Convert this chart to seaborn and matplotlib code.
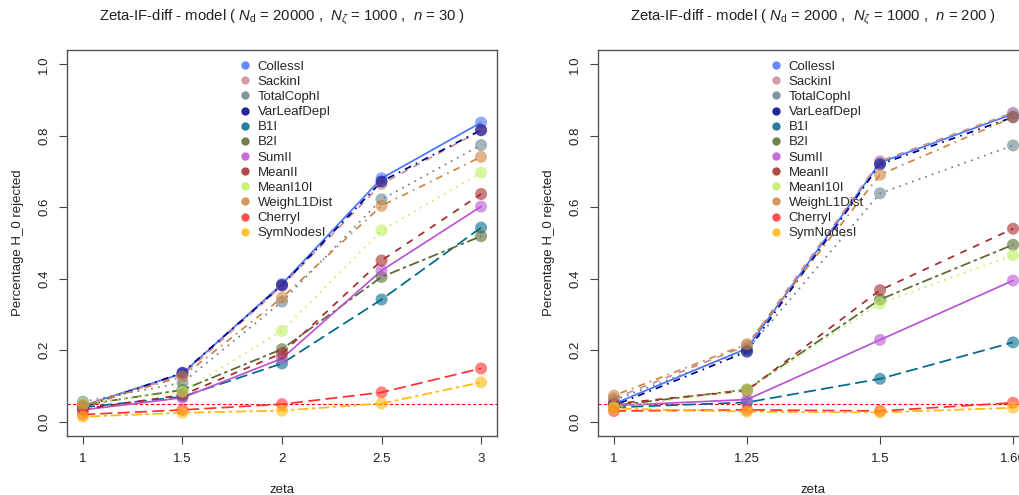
import numpy as np
import pandas as pd
import matplotlib
matplotlib.use("Agg")
import matplotlib.pyplot as plt
from matplotlib.lines import Line2D
import seaborn as sns

sns.set_style("white")
plt.rcParams['font.family'] = ['Liberation Sans', 'DejaVu Sans']
plt.rcParams['mathtext.fontset'] = 'custom'
plt.rcParams['mathtext.rm'] = 'Liberation Sans'
plt.rcParams['mathtext.it'] = 'Liberation Sans:italic'

# ---------------- data ----------------
indices = ["CollessI", "SackinI", "TotalCophI", "VarLeafDepI", "B1I", "B2I",
           "SumII", "MeanII", "MeanI10I", "WeighL1Dist", "CherryI", "SymNodesI"]

left_x = [1, 1.5, 2, 2.5, 3]
left_xlabels = ["1", "1.5", "2", "2.5", "3"]
left_vals = {
    "CollessI":    [0.045, 0.135, 0.385, 0.681, 0.837],
    "SackinI":     [0.045, 0.130, 0.380, 0.665, 0.815],
    "TotalCophI":  [0.056, 0.109, 0.336, 0.622, 0.774],
    "VarLeafDepI": [0.040, 0.137, 0.382, 0.672, 0.816],
    "B1I":         [0.040, 0.070, 0.163, 0.342, 0.543],
    "B2I":         [0.047, 0.089, 0.203, 0.405, 0.519],
    "SumII":       [0.033, 0.067, 0.177, 0.423, 0.602],
    "MeanII":      [0.035, 0.075, 0.191, 0.451, 0.637],
    "MeanI10I":    [0.050, 0.084, 0.254, 0.535, 0.697],
    "WeighL1Dist": [0.045, 0.126, 0.347, 0.604, 0.741],
    "CherryI":     [0.020, 0.033, 0.049, 0.082, 0.149],
    "SymNodesI":   [0.014, 0.025, 0.031, 0.051, 0.110],
}

right_x = [0, 1, 2, 3]
right_xlabels = ["1", "1.25", "1.5", "1.66"]
right_vals = {
    "CollessI":    [0.050, 0.205, 0.725, 0.861],
    "SackinI":     [0.065, 0.213, 0.729, 0.865],
    "TotalCophI":  [0.060, 0.200, 0.639, 0.773],
    "VarLeafDepI": [0.045, 0.196, 0.720, 0.852],
    "B1I":         [0.040, 0.054, 0.120, 0.222],
    "B2I":         [0.045, 0.090, 0.342, 0.495],
    "SumII":       [0.045, 0.062, 0.229, 0.395],
    "MeanII":      [0.050, 0.087, 0.368, 0.540],
    "MeanI10I":    [0.040, 0.089, 0.331, 0.466],
    "WeighL1Dist": [0.073, 0.217, 0.691, 0.852],
    "CherryI":     [0.030, 0.033, 0.030, 0.053],
    "SymNodesI":   [0.037, 0.028, 0.026, 0.039],
}

titles = [r"Zeta-IF-diff - model ( $N_\mathrm{d}$ = 20000 ,  $N_\zeta$ = 1000 ,  $n$ = 30 )",
          r"Zeta-IF-diff - model ( $N_\mathrm{d}$ = 2000 ,  $N_\zeta$ = 1000 ,  $n$ = 200 )"]
alpha_level = 0.05

# ---------------- styles ----------------
colors = {
    "CollessI": "#4876FF", "SackinI": "#CD8C95", "TotalCophI": "#66848C",
    "VarLeafDepI": "#00008B", "B1I": "#00688B", "B2I": "#556B2F",
    "SumII": "#BA55D3", "MeanII": "#A52A2A", "MeanI10I": "#BFEF5F",
    "WeighL1Dist": "#CD853F", "CherryI": "#FF3030", "SymNodesI": "#FFB90F",
}
r_lty = ["", (4, 4), (1, 3), (1, 3, 4, 3), (7, 3), (2, 2, 6, 2)]
dashes = {name: r_lty[i % 6] for i, name in enumerate(indices)}

def long_df(xs, vals):
    rows = []
    for name in indices:
        for x, v in zip(xs, vals[name]):
            rows.append((name, x, v))
    return pd.DataFrame(rows, columns=["index", "zeta", "value"])

W, H = 1019, 495
fig = plt.figure(figsize=(W / 100, H / 100), dpi=100)
ax1 = fig.add_axes([67 / W, 59 / H, 430 / W, 386 / H])
ax2 = fig.add_axes([598 / W, 59 / H, 431 / W, 386 / H])

panels = [(ax1, left_x, left_xlabels, left_vals, (0.92, 3.08), titles[0]),
          (ax2, right_x, right_xlabels, right_vals, (-0.12, 3.12), titles[1])]

for ax, xs, xl, vals, xlim, title in panels:
    df = long_df(xs, vals)
    sns.lineplot(data=df, x="zeta", y="value", hue="index", style="index",
                 palette=colors, dashes=dashes, hue_order=indices,
                 style_order=indices, linewidth=1.25, legend=False, ax=ax)
    sns.scatterplot(data=df, x="zeta", y="value", hue="index", palette=colors,
                    hue_order=indices, s=75, alpha=0.6, edgecolor="none",
                    legend=False, ax=ax, zorder=3)
    ax.axhline(alpha_level, color="#FF0000", lw=0.8, dashes=(3, 2), zorder=1)
    ax.set_xlim(*xlim)
    ax.set_ylim(-0.04, 1.04)
    ax.set_xticks(xs)
    ax.set_xticklabels(xl)
    ax.set_yticks([0, 0.2, 0.4, 0.6, 0.8, 1.0])
    ax.set_yticklabels(["0.0", "0.2", "0.4", "0.6", "0.8", "1.0"],
                       rotation=90, va="center")
    ax.tick_params(axis="both", direction="out", length=6, width=0.8,
                   color="#444444", labelsize=9.5, pad=6, bottom=True, left=True,
                   labelcolor="#222222")
    for s in ax.spines.values():
        s.set_color("#555555")
        s.set_linewidth(1.0)
        s.set_visible(True)
    ax.set_xlabel("zeta", fontsize=9.5, labelpad=14, color="#222222")
    ax.set_ylabel("Percentage H_0 rejected", fontsize=9.5, labelpad=10,
                  color="#222222")
    ax.set_title(title, fontsize=10.7, pad=21, color="#222222")
    handles = [Line2D([], [], ls="none", marker="o", markersize=6,
                      markerfacecolor=colors[n], markeredgecolor="none",
                      alpha=0.85, label=n) for n in indices]
    leg = ax.legend(handles=handles, loc="upper left",
                    bbox_to_anchor=(0.377, 1.0), frameon=False, fontsize=9.5,
                    labelspacing=0.22, handlelength=0.8, handletextpad=0.55,
                    borderaxespad=0.4)

fig.savefig("out.png", dpi=100)
